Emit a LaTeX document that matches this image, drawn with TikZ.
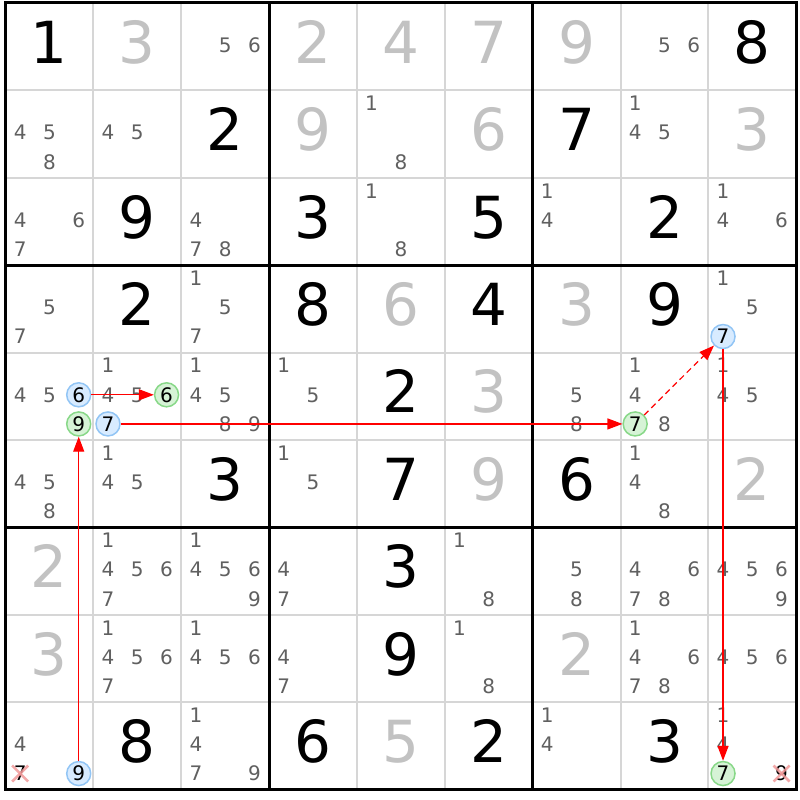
\documentclass[tikz,border=0pt]{standalone}
\usepackage{fontspec}
\setmainfont{DejaVu Sans}
\usetikzlibrary{arrows.meta}
\definecolor{solvedgray}{HTML}{C2C2C2}
\definecolor{candgray}{HTML}{606060}
\definecolor{thingrid}{HTML}{D6D6D6}
\definecolor{onfill}{HTML}{D8EBFF}
\definecolor{ondraw}{HTML}{92C5F5}
\definecolor{offfill}{HTML}{D6F3D6}
\definecolor{offdraw}{HTML}{88D888}
\definecolor{crossred}{HTML}{F29A9A}

\tikzset{
  given/.style={inner sep=0pt, text height=42.3pt, text depth=0pt,
    font=\fontsize{58}{58}\selectfont, yshift=4.5pt},
  solved/.style={given, text=solvedgray},
  cand/.style={inner sep=0pt, text height=14.6pt, text depth=0pt,
    font=\fontsize{20}{20}\selectfont, text=candgray, yshift=1.5pt},
  on/.style={cand, circle, draw=ondraw, fill=onfill, line width=1.5pt,
    minimum size=24pt, text=black},
  off/.style={on, draw=offdraw, fill=offfill},
  link/.style={draw=red, line width=1.2pt, -{Triangle[length=15pt,width=11pt]}},
  weak/.style={link, dash pattern=on 6pt off 4pt},
  cross/.style={draw=crossred, line width=2.6pt, opacity=0.85}
}

\begin{document}
\begin{tikzpicture}[x=87.86pt, y=-87.4pt]
  \useasboundingbox ([xshift=-5.5pt,yshift=3pt]0,0) rectangle ++(800pt,-800pt);
  \fill[white] ([xshift=-5.5pt,yshift=3pt]0,0) rectangle ++(800pt,-800pt);

  % grid
  \foreach \i in {1,2,4,5,7,8} {
    \draw[thingrid, line width=2pt] (\i,0) -- (\i,9);
    \draw[thingrid, line width=2pt] (0,\i) -- (9,\i);
  }
  \foreach \i in {0,3,6,9} {
    \draw[black, line width=3pt] (\i,-0.017) -- (\i,9.017);
    \draw[black, line width=3pt] (-0.017,\i) -- (9.017,\i);
  }

  % givens
  \foreach \r/\c/\d in {1/1/1, 1/9/8, 2/3/2, 2/7/7, 3/2/9, 3/4/3, 3/6/5, 3/8/2,
      4/2/2, 4/4/8, 4/6/4, 4/8/9, 5/5/2, 6/3/3, 6/5/7, 6/7/6, 7/5/3, 8/5/9,
      9/2/8, 9/4/6, 9/6/2, 9/8/3}
    \node[given] (g\r\c) at (\c-0.5,\r-0.5) {\d};

  % solved
  \foreach \r/\c/\d in {1/2/3, 1/4/2, 1/5/4, 1/6/7, 1/7/9, 2/4/9, 2/6/6, 2/9/3,
      4/5/6, 4/7/3, 5/6/3, 6/6/9, 6/9/2, 7/1/2, 8/1/3, 8/7/2, 9/5/5}
    \node[solved] (s\r\c) at (\c-0.5,\r-0.5) {\d};

  % candidates
  \foreach \r/\c/\ds in {1/3/{5,6}, 1/8/{5,6},
      2/1/{4,5,8}, 2/2/{4,5}, 2/5/{1,8}, 2/8/{1,4,5},
      3/1/{4,6,7}, 3/3/{4,7,8}, 3/5/{1,8}, 3/7/{1,4}, 3/9/{1,4,6},
      4/1/{5,7}, 4/3/{1,5,7}, 4/9/{1,5},
      5/1/{4,5}, 5/2/{1,4,5}, 5/3/{1,4,5,8,9}, 5/4/{1,5}, 5/7/{5,8},
      5/8/{1,4,8}, 5/9/{1,4,5},
      6/1/{4,5,8}, 6/2/{1,4,5}, 6/4/{1,5}, 6/8/{1,4,8},
      7/2/{1,4,5,6,7}, 7/3/{1,4,5,6,9}, 7/4/{4,7}, 7/6/{1,8}, 7/7/{5,8},
      7/8/{4,6,7,8}, 7/9/{4,5,6,9},
      8/2/{1,4,5,6,7}, 8/3/{1,4,5,6}, 8/4/{4,7}, 8/6/{1,8},
      8/8/{1,4,6,7,8}, 8/9/{4,5,6},
      9/1/{4}, 9/3/{1,4,7,9}, 9/7/{1,4}, 9/9/{1,4}}
    \foreach \d in \ds {
      \pgfmathsetmacro\cx{\c-1+(2*mod(\d-1,3)+1)/6}
      \pgfmathsetmacro\cy{\r-1+(2*floor((\d-1)/3)+1)/6}
      \node[cand] (k\r\c\d) at (\cx,\cy) {\d};
    }

  % eliminated
  \node[cand, text=black] (x917) at (1/6,8+5/6) {7};
  \node[cand, text=black] (x999) at (8+5/6,8+5/6) {9};
  \draw[cross] ([shift={(-8pt,-8pt)}]x917.center) -- ([shift={(8pt,8pt)}]x917.center);
  \draw[cross] ([shift={(-8pt,8pt)}]x917.center) -- ([shift={(8pt,-8pt)}]x917.center);
  \draw[cross] ([shift={(-8pt,-8pt)}]x999.center) -- ([shift={(8pt,8pt)}]x999.center);
  \draw[cross] ([shift={(-8pt,8pt)}]x999.center) -- ([shift={(8pt,-8pt)}]x999.center);

  % chain
  \node[on]  (on516) at (5/6,4.5) {6};
  \node[off] (off526) at (1+5/6,4.5) {6};
  \node[on]  (on527) at (1+1/6,4+5/6) {7};
  \node[off] (off587) at (7+1/6,4+5/6) {7};
  \node[on]  (on497) at (8+1/6,3+5/6) {7};
  \node[off] (off997) at (8+1/6,8+5/6) {7};
  \node[on]  (on919) at (5/6,8+5/6) {9};
  \node[off] (off519) at (5/6,4+5/6) {9};

  \path
  (on516) edge[link] (off526)
  (on527) edge[link] (off587)
  (off587) edge[weak] (on497)
  (on497) edge[link] (off997)
  (on919) edge[link] (off519);
\end{tikzpicture}
\end{document}
